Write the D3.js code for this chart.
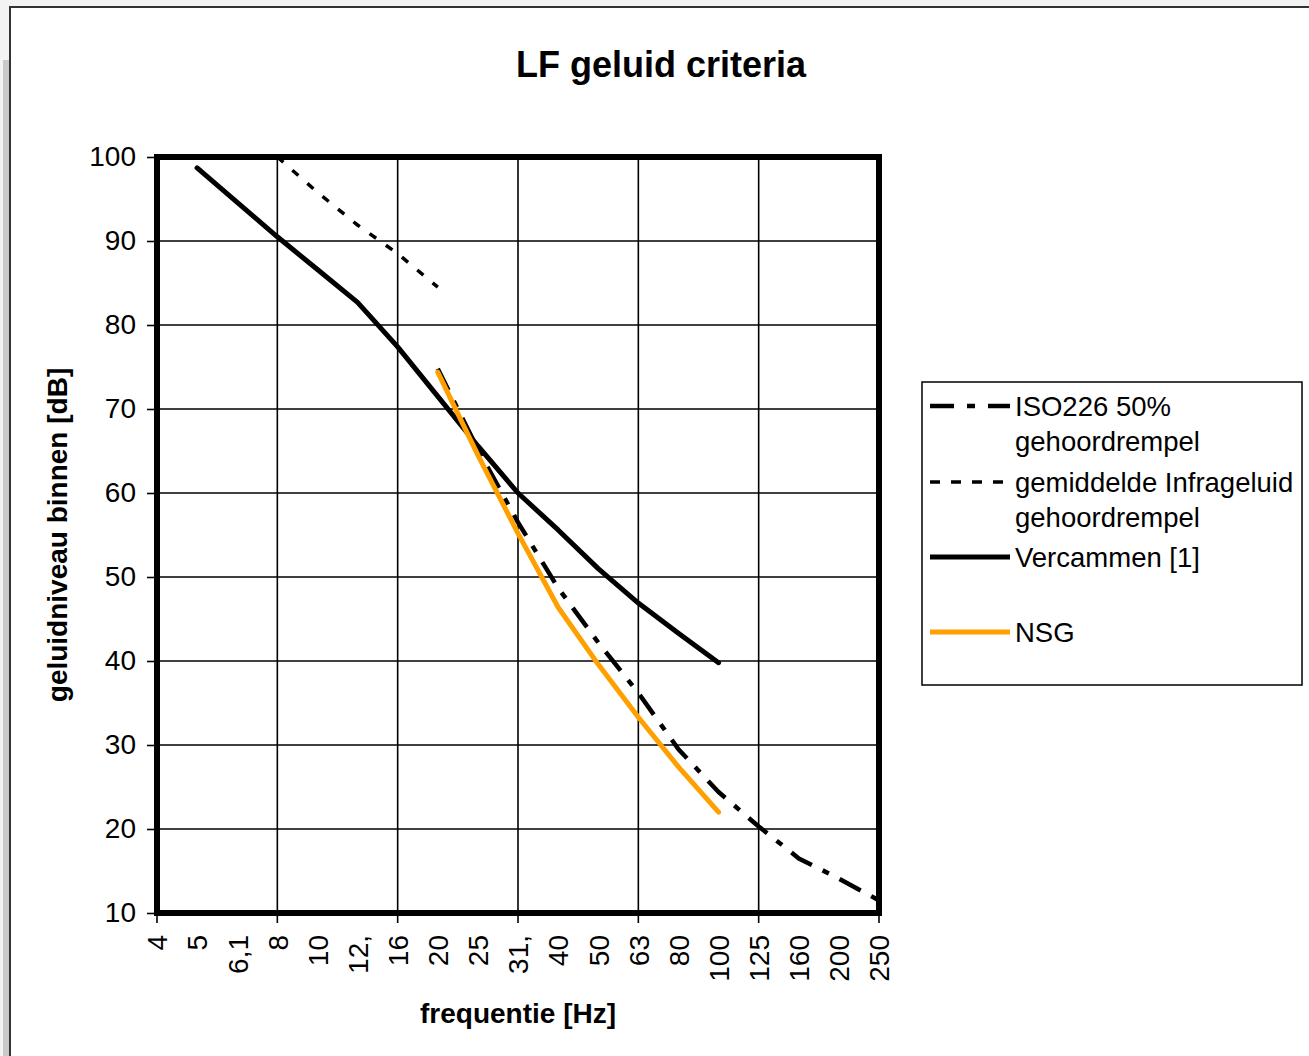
<!DOCTYPE html>
<html>
<head>
<meta charset="utf-8">
<script src="https://cdn.jsdelivr.net/npm/d3@7"></script>
<style>
  html, body { margin: 0; padding: 0; background: #f3f3f3; }
  svg { display: block; }
  text { font-family: "Liberation Sans", Arial, sans-serif; fill: #000; }
</style>
</head>
<body>
<svg id="chart" width="1309" height="1056"></svg>
<script>
// ---- data ----
const freqLabels = ["4","5","6,1","8","10","12,","16","20","25","31,","40","50","63","80","100","125","160","200","250"];
const yTicks = [10,20,30,40,50,60,70,80,90,100];
const gridEvery = 3;

// values per frequency band (null = no value)
const isoValues   = [null,null,null,null,null,null,null,74.8,65.2,56.5,48.7,42.2,36.2,29.5,24.4,20.3,16.5,14.1,11.5];
const infraValues = [null,null,null,100,95.8,91.9,88.5,84.5,null,null,null,null,null,null,null,null,null,null,null];
const vercValues  = [null,98.7,94.6,90.5,86.6,82.7,77.4,71.5,65.6,60.0,55.6,51.0,46.9,43.3,39.8,null,null,null,null];
const nsgValues   = [null,null,null,null,null,null,null,74.4,64.5,55.2,46.4,39.6,33.3,27.4,22.0,null,null,null,null];

const seriesNames = ["ISO226 50%|gehoordrempel", "gemiddelde Infrageluid|gehoordrempel", "Vercammen [1]", "NSG"];

// ---- layout ----
const svg = d3.select("#chart");
const W = 1309, H = 1056;
const plot = {left: 157, right: 879, top: 157, bottom: 913};

svg.append("rect").attr("x", 0).attr("y", 0).attr("width", W).attr("height", H).attr("fill", "#f3f3f3");
svg.append("rect").attr("x", 3).attr("y", 60).attr("width", 7).attr("height", H).attr("fill", "#c9c9c9");
svg.append("rect").attr("x", 10).attr("y", 7).attr("width", W + 50).attr("height", H + 50)
   .attr("fill", "#fff").attr("stroke", "#333").attr("stroke-width", 2);

const x = d3.scalePoint().domain(freqLabels).range([plot.left, plot.right]);
const y = d3.scaleLinear().domain([10, 100]).range([plot.bottom, plot.top]);

// title
svg.append("text").attr("x", 661).attr("y", 77).attr("text-anchor", "middle")
   .attr("font-size", 36).attr("font-weight", "bold").text("LF geluid criteria");

// grid
const g = svg.append("g");
g.selectAll("line.hg").data(yTicks.slice(1, -1)).join("line")
  .attr("x1", plot.left).attr("x2", plot.right)
  .attr("y1", d => y(d)).attr("y2", d => y(d))
  .attr("stroke", "#000").attr("stroke-width", 1.6);
const gridCats = freqLabels.filter((d, i) => i % gridEvery === 0);
g.selectAll("line.vg").data(gridCats.slice(1, -1)).join("line")
  .attr("x1", d => x(d)).attr("x2", d => x(d))
  .attr("y1", plot.top).attr("y2", plot.bottom)
  .attr("stroke", "#000").attr("stroke-width", 1.6);

// axes
const yAxis = d3.axisLeft(y).tickValues(yTicks).tickSize(10).tickSizeOuter(0);
const ya = svg.append("g").attr("transform", `translate(${plot.left},0)`).call(yAxis);
ya.select(".domain").remove();
ya.selectAll(".tick line").attr("stroke", "#000").attr("stroke-width", 1.6);
ya.selectAll(".tick text").attr("font-size", 28).attr("x", -21)
  .attr("font-family", "Liberation Sans, Arial, sans-serif").attr("fill", "#000");

const xAxis = d3.axisBottom(x).tickSize(0).tickSizeOuter(0);
const xa = svg.append("g").attr("transform", `translate(0,${plot.bottom})`).call(xAxis);
xa.select(".domain").remove();
xa.selectAll(".tick text")
  .attr("font-size", 28).attr("font-family", "Liberation Sans, Arial, sans-serif").attr("fill", "#000")
  .attr("text-anchor", "end").attr("transform", "rotate(-90)")
  .attr("x", -22).attr("y", 0).attr("dy", "0.35em");
svg.append("g").selectAll("line").data(gridCats).join("line")
  .attr("x1", d => x(d)).attr("x2", d => x(d))
  .attr("y1", plot.bottom).attr("y2", plot.bottom + 10)
  .attr("stroke", "#000").attr("stroke-width", 1.6);

// axis titles
svg.append("text").attr("x", (plot.left + plot.right) / 2).attr("y", 1023)
   .attr("text-anchor", "middle").attr("font-size", 28).attr("font-weight", "bold").text("frequentie [Hz]");
svg.append("text").attr("transform", `translate(67,${(plot.top + plot.bottom) / 2}) rotate(-90)`)
   .attr("text-anchor", "middle").attr("font-size", 28).attr("font-weight", "bold").text("geluidniveau binnen [dB]");

// series
const line = d3.line()
  .defined(d => d.v != null)
  .x(d => x(d.f)).y(d => y(d.v));
const toPts = arr => freqLabels.map((f, i) => ({f, v: arr[i]}));

const styles = [
  {data: isoValues,   color: "#000", width: 4.5, dash: "24,12,7,12"},
  {data: infraValues, color: "#000", width: 3.5, dash: "8,12"},
  {data: vercValues,  color: "#000", width: 5,   dash: null},
  {data: nsgValues,   color: "#FFA000", width: 5, dash: null}
];
const drawOrder = [2, 1, 0, 3];
drawOrder.forEach(k => {
  const s = styles[k];
  svg.append("path").datum(toPts(s.data)).attr("d", line)
    .attr("fill", "none").attr("stroke", s.color).attr("stroke-width", s.width)
    .attr("stroke-linejoin", "round").attr("stroke-linecap", s.dash ? "butt" : "round")
    .attr("stroke-dasharray", s.dash);
});

// plot frame
svg.append("rect").attr("x", plot.left).attr("y", plot.top)
  .attr("width", plot.right - plot.left).attr("height", plot.bottom - plot.top)
  .attr("fill", "none").attr("stroke", "#000").attr("stroke-width", 6);

// legend
const lg = svg.append("g");
lg.append("rect").attr("x", 922).attr("y", 382).attr("width", 380).attr("height", 303)
  .attr("fill", "#fff").attr("stroke", "#000").attr("stroke-width", 1.5);
const legY = [406, 482, 557, 632];
seriesNames.forEach((name, k) => {
  const s = styles[k];
  lg.append("line").attr("x1", 930).attr("x2", 1010).attr("y1", legY[k]).attr("y2", legY[k])
    .attr("stroke", s.color).attr("stroke-width", s.width)
    .attr("stroke-dasharray", s.dash ? (k === 0 ? "24,13,8,13" : "10,11") : null);
  const parts = name.split("|");
  parts.forEach((p, j) => {
    lg.append("text").attr("x", 1015).attr("y", legY[k] + 10 + j * 35)
      .attr("font-size", 27.5).text(p);
  });
});
</script>
</body>
</html>
